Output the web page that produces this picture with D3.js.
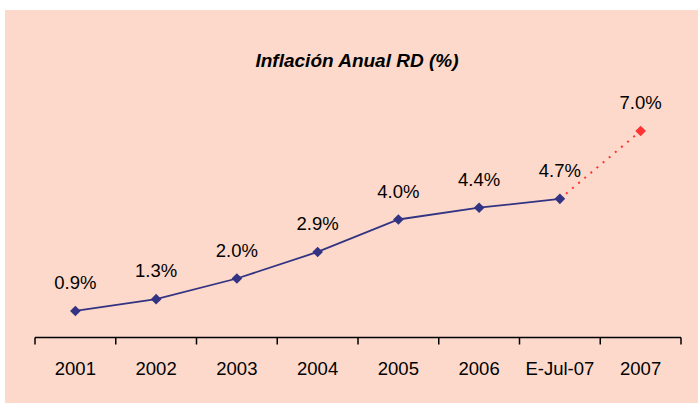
<!DOCTYPE html>
<html lang="es">
<head>
<meta charset="utf-8">
<title>Inflación Anual RD</title>
<script src="https://d3js.org/d3.v7.min.js"></script>
<style>
  body { margin: 0; background: #fff; }
  text { font-family: "Liberation Sans", Arial, sans-serif; fill: #000; }
</style>
</head>
<body>
<div id="chart"></div>
<script>
// data
var categories = ["2001", "2002", "2003", "2004", "2005", "2006", "E-Jul-07", "2007"];
var actualValues = [0.9, 1.3, 2.0, 2.9, 4.0, 4.4, 4.7];   // solid series
var estimateCats = ["E-Jul-07", "2007"];
var estimateValues = [4.7, 7.0];                          // dotted projection
var title = "Inflación Anual RD (%)";

var W = 698, H = 403;
var svg = d3.select("#chart").append("svg")
  .attr("width", W).attr("height", H);

// background panel
svg.append("rect")
  .attr("x", 5).attr("y", 10)
  .attr("width", W - 5).attr("height", H - 10)
  .attr("fill", "#fcd9ca");

var x = d3.scaleBand().domain(categories).range([35, 681]).padding(0);
var y = d3.scaleLinear().domain([0, 8]).range([337.5, 101.5]);
var cx = function(c) { return x(c) + x.bandwidth() / 2; };

// title
svg.append("text")
  .attr("x", 357).attr("y", 67)
  .attr("text-anchor", "middle")
  .attr("font-size", "19px")
  .attr("font-weight", "bold")
  .attr("font-style", "italic")
  .text(title);

// axis line + ticks at band boundaries
var axis = svg.append("g");
axis.append("line")
  .attr("x1", x.range()[0]).attr("x2", x.range()[1])
  .attr("y1", y(0)).attr("y2", y(0))
  .attr("stroke", "#000").attr("stroke-width", 1.5);
var bounds = categories.map(function(c) { return x(c); }).concat([x.range()[1]]);
axis.selectAll(".tick").data(bounds).enter().append("line")
  .attr("x1", function(d) { return d; }).attr("x2", function(d) { return d; })
  .attr("y1", y(0)).attr("y2", y(0) + 7)
  .attr("stroke", "#000").attr("stroke-width", 1.5);
axis.selectAll(".lbl").data(categories).enter().append("text")
  .attr("x", function(d) { return cx(d); })
  .attr("y", 375)
  .attr("text-anchor", "middle")
  .attr("font-size", "18.5px")
  .text(function(d) { return d; });

var actual = actualValues.map(function(v, i) { return { c: categories[i], v: v }; });
var estimate = estimateValues.map(function(v, i) { return { c: estimateCats[i], v: v }; });

var line = d3.line()
  .x(function(d) { return cx(d.c); })
  .y(function(d) { return y(d.v); });

// dotted projection
svg.append("path")
  .datum(estimate)
  .attr("fill", "none")
  .attr("stroke", "#ff3333")
  .attr("stroke-width", 2)
  .attr("stroke-dasharray", "2,6")
  .attr("d", line);

// solid line
svg.append("path")
  .datum(actual)
  .attr("fill", "none")
  .attr("stroke", "#333383")
  .attr("stroke-width", 1.8)
  .attr("d", line);

var diamond = d3.symbol().type(d3.symbolDiamond2).size(72);

svg.selectAll(".pt").data(actual).enter().append("path")
  .attr("d", diamond)
  .attr("transform", function(d) { return "translate(" + cx(d.c) + "," + y(d.v) + ")"; })
  .attr("fill", "#333383");

svg.append("path")
  .datum(estimate[1])
  .attr("d", diamond)
  .attr("transform", function(d) { return "translate(" + cx(d.c) + "," + y(d.v) + ")"; })
  .attr("fill", "#ff3333");

// value labels
var labels = actual.concat([estimate[1]]);
svg.selectAll(".val").data(labels).enter().append("text")
  .attr("x", function(d) { return cx(d.c); })
  .attr("y", function(d) { return y(d.v) - 22; })
  .attr("text-anchor", "middle")
  .attr("font-size", "18.5px")
  .text(function(d) { return d.v.toFixed(1) + "%"; });
</script>
</body>
</html>
